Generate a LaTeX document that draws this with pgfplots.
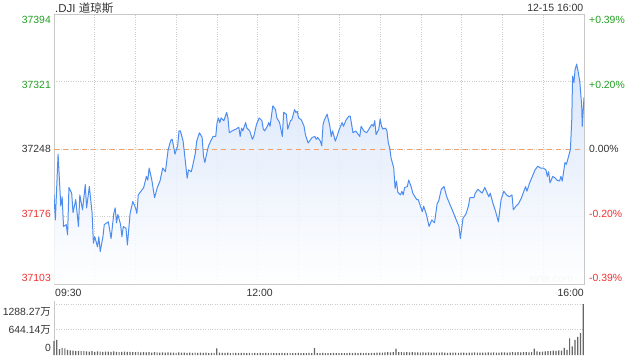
\documentclass[border=0pt]{standalone}
\usepackage{pgfplots}
\usepackage{pgfplotstable}
\pgfplotsset{compat=1.18}
\usepackage{fontspec}
\setmainfont{Liberation Sans}
\newfontfamily\cjk{Noto Sans CJK SC}
\definecolor{upg}{HTML}{22A022}
\definecolor{dnr}{HTML}{F03030}
\definecolor{linec}{HTML}{4D8DF0}
\definecolor{fillc}{HTML}{D4E2FA}
\definecolor{gridc}{HTML}{CCCCCC}
\definecolor{borderc}{HTML}{C8C8C8}
\definecolor{orangec}{HTML}{F2A06A}
\definecolor{volc}{HTML}{666666}
\definecolor{txt}{HTML}{333333}

\pgfplotstableread{
t p
0 37199
1 37172
3 37243
5 37187
6 37197
7 37165
9 37167
10 37156
11 37207
13 37201
14 37180
16 37194
18 37165
19 37199
21 37183
23 37210
24 37185
26 37208
28 37180
29 37147
30 37154
32 37143
33 37154
34 37138
36 37154
37 37167
39 37169
40 37170
42 37152
44 37179
45 37185
46 37169
47 37178
49 37167
50 37154
51 37165
53 37163
54 37145
56 37179
58 37192
60 37185
61 37179
62 37199
65 37205
66 37207
68 37219
69 37215
70 37228
72 37215
74 37196
76 37207
78 37214
80 37228
82 37224
84 37248
86 37258
87 37259
89 37243
91 37252
92 37268
93 37268
95 37257
96 37244
98 37217
99 37226
101 37224
102 37230
104 37244
105 37257
107 37266
109 37261
110 37241
111 37234
113 37248
114 37253
116 37259
117 37262
119 37262
120 37277
121 37282
122 37277
123 37282
125 37279
127 37288
128 37282
129 37266
131 37268
134 37270
136 37272
137 37262
138 37271
139 37268
141 37277
142 37271
144 37268
146 37259
147 37262
149 37275
151 37282
153 37279
154 37270
155 37268
157 37273
158 37277
159 37273
161 37295
163 37291
164 37282
166 37277
168 37262
169 37288
171 37286
172 37270
174 37279
175 37280
177 37291
178 37288
179 37289
180 37282
182 37280
184 37273
185 37264
187 37255
188 37257
190 37261
192 37262
193 37259
194 37261
196 37257
197 37252
198 37275
199 37280
201 37286
203 37273
204 37262
205 37268
207 37257
208 37261
210 37270
212 37277
213 37273
215 37280
217 37284
218 37284
219 37275
220 37266
222 37268
224 37264
225 37262
226 37273
228 37268
230 37266
231 37268
233 37273
234 37275
235 37273
236 37279
237 37264
239 37270
240 37281
241 37273
242 37270
244 37271
245 37268
246 37255
247 37250
248 37239
250 37228
251 37206
252 37214
253 37202
255 37199
256 37203
257 37199
258 37207
260 37208
261 37215
263 37207
264 37201
266 37196
267 37194
268 37194
271 37181
272 37187
274 37178
276 37165
278 37172
280 37169
282 37190
283 37192
285 37205
287 37208
289 37197
291 37190
293 37183
296 37172
298 37165
299 37152
301 37174
303 37178
305 37187
306 37196
309 37196
310 37201
312 37205
315 37201
317 37207
320 37197
321 37201
323 37190
325 37181
327 37170
329 37194
331 37203
333 37199
335 37197
337 37199
338 37183
340 37187
342 37190
344 37196
347 37208
348 37203
350 37212
352 37219
354 37226
356 37230
358 37228
360 37228
362 37226
363 37219
364 37224
365 37212
367 37219
369 37217
370 37215
372 37214
373 37219
374 37214
376 37234
377 37232
378 37237
380 37248
381 37280
381.6 37327
382.6 37320
383.4 37334
384.6 37340
385.8 37331
387 37320
388.3 37295
388.7 37273
390 37304
}\price

\pgfplotstableread{
v
350
380
150
180
170
130
120
110
100
105
95
100
90
85
95
80
90
85
80
88
85
78
90
80
75
82
88
76
80
72
70
78
65
72
68
75
62
70
66
60
64
58
66
60
62
56
64
58
60
55
62
56
58
52
60
55
58
50
56
54
170
60
55
52
58
50
54
56
50
52
55
50
53
48
55
50
52
48
54
50
52
48
50
46
52
48
50
45
50
48
52
48
50
46
54
48
175
50
48
52
48
50
46
52
48
50
45
50
48
52
50
55
48
52
50
56
50
54
52
58
60
62
65
70
68
72
160
75
70
68
72
66
70
64
68
62
66
60
64
58
62
60
58
64
60
56
62
58
60
56
58
62
56
60
58
64
60
58
62
60
64
60
66
62
60
68
64
62
66
70
68
72
66
70
74
68
72
160
90
80
85
90
100
95
110
105
120
110
180
130
420
220
380
455
550
1288
}\vol

\begin{document}
\begin{tikzpicture}[x=1pt,y=1pt]
\useasboundingbox (0,0) rectangle (640,360);
% title texts
\node[anchor=west,text=txt,inner sep=0pt] at (55,351.7) {\fontsize{11.5}{13}\selectfont .DJI {\cjk 道琼斯}};
\node[anchor=east,text=txt,inner sep=0pt] at (583.5,352.5) {\fontsize{10.5}{12}\selectfont 12-15 16:00};
% time labels
\node[anchor=west,text=txt,inner sep=0pt] at (55,66.7) {\fontsize{10.5}{12}\selectfont 09:30};
\node[anchor=center,text=txt,inner sep=0pt] at (259.7,66.7) {\fontsize{10.5}{12}\selectfont 12:00};
\node[anchor=east,text=txt,inner sep=0pt] at (584,66.7) {\fontsize{10.5}{12}\selectfont 16:00};
% left price labels
\foreach \yy/\lab/\col in {340/37394/upg,275.5/37321/upg,211/37248/txt,146.5/37176/dnr,82/37103/dnr}{
  \node[anchor=east,text=\col,inner sep=0pt] at (51,\yy) {\fontsize{10.4}{12}\selectfont \lab};
}
\foreach \yy/\lab/\col in {340/+0.39\%/upg,275.5/+0.20\%/upg,211/0.00\%/txt,146.5/-0.20\%/dnr,82/-0.39\%/dnr}{
  \node[anchor=west,text=\col,inner sep=0pt] at (589,\yy) {\fontsize{10.4}{12}\selectfont \lab};
}
% volume labels
\foreach \yy/\lab in {48.3/1288.27{\cjk 万},30/644.14{\cjk 万},11.7/0}{
  \node[anchor=east,text=txt,inner sep=0pt] at (51,\yy) {\fontsize{10.4}{12}\selectfont \lab};
}
\node[anchor=east,text=gray!35,inner sep=0pt] at (573.5,81) {\fontsize{11}{12}\selectfont sina.com};

% main price axis: values plotted relative to the axis bottom 37103
\begin{axis}[
  at={(54pt,76pt)}, anchor=south west, scale only axis,
  width=530pt, height=270pt,
  xmin=0, xmax=390, ymin=0, ymax=291,
  axis line style={draw=borderc},
  xtick={30,60,...,360}, ytick={73,145,218},
  xticklabels={}, yticklabels={},
  major tick length=0pt,
  xmajorgrids, ymajorgrids,
  grid style={gridc, dotted, line width=0.8pt},
]
\addplot[top color=fillc, bottom color=white, draw=none, fill opacity=0.85] table[x=t, y expr=\thisrow{p}-37103] {\price} \closedcycle;
\addplot[orangec, line width=0.9pt, dash pattern=on 5pt off 4.3pt] coordinates {(0,145) (390,145)};
\addplot[linec, line width=1pt, line join=round] table[x=t, y expr=\thisrow{p}-37103] {\price};
\end{axis}

\begin{axis}[
  at={(54pt,5pt)}, anchor=south west, scale only axis,
  width=530pt, height=51pt,
  xmin=0, xmax=390.6, ymin=0, ymax=1288.27,
  axis line style={draw=none},
  xtick=\empty, ytick={644.14,1288.27}, yticklabels={},
  major tick length=0pt,
  ymajorgrids, grid style={gridc, dotted, line width=0.8pt},
  clip=false,
]
\draw[borderc, line width=0.8pt] (rel axis cs:0,0) -- (rel axis cs:0,1.06);
\addplot[ybar, bar width=1.2pt, fill=volc, draw=none] table[x expr=\coordindex*2, y=v] {\vol};
\end{axis}
\end{tikzpicture}
\end{document}
